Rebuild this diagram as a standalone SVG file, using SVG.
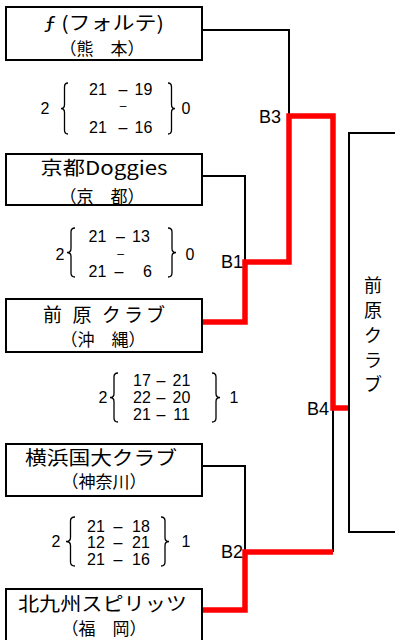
<svg xmlns="http://www.w3.org/2000/svg" width="395" height="640" viewBox="0 0 395 640">
<style>
.box{fill:#fff;stroke:#000;stroke-width:2}
.ln{fill:none;stroke:#000;stroke-width:2}
.win{fill:none;stroke:#f00;stroke-width:5.5}
.nm{font-family:"Noto Sans CJK JP",sans-serif;font-size:19px;text-anchor:middle;fill:#000}
.sub{font-family:"Noto Sans CJK JP",sans-serif;font-size:17px;text-anchor:middle;fill:#000}
.sc{font-family:"Liberation Sans",Arial,sans-serif;font-size:16px;text-anchor:middle;fill:#000}
.md{font-family:"Liberation Sans",Arial,sans-serif;font-size:12px;text-anchor:middle;fill:#000}
.br{fill:none;stroke:#000;stroke-width:1.3}
.lb{font-family:"Liberation Sans",Arial,sans-serif;font-size:18px;text-anchor:end;fill:#000}
.vt{font-family:"Noto Sans CJK JP",sans-serif;font-size:18px;text-anchor:middle;fill:#000}
</style>
<rect width="395" height="640" fill="#fff"/>

<g id="connectors">
  <path class="ln" d="M202,30 H289 V116"/>
  <path class="ln" d="M202,176 H245 V262"/>
  <path class="ln" d="M202,466 H245 V552"/>
  <path class="ln" d="M333,408 V552"/>
  <path class="win" d="M202,322 H245 V262 H289 V116 H333 V408 H349"/>
  <path class="win" d="M202,610 H245 V552 H333"/>
  <text class="lb" x="281" y="123">B3</text>
  <text class="lb" x="243" y="268">B1</text>
  <text class="lb" x="329" y="415">B4</text>
  <text class="lb" x="243" y="558">B2</text>
</g>

<g id="team-forte">
  <rect class="box" x="6" y="7" width="196" height="53"/>
  <text class="nm" x="104" y="30" textLength="120" lengthAdjust="spacingAndGlyphs">ƒ (フォルテ)</text>
  <text class="sub" x="102" y="55">（熊　本）</text>
</g>
<g id="team-kyoto">
  <rect class="box" x="6" y="154" width="196" height="51"/>
  <text class="nm" x="104" y="175" textLength="127" lengthAdjust="spacingAndGlyphs">京都Doggies</text>
  <text class="sub" x="102" y="203">（京　都）</text>
</g>
<g id="team-maehara">
  <rect class="box" x="6" y="299" width="196" height="53"/>
  <text class="nm" x="104" y="322" textLength="122" lengthAdjust="spacing">前 原 クラブ</text>
  <text class="sub" x="103" y="346">（沖　縄）</text>
</g>
<g id="team-yokohama">
  <rect class="box" x="6" y="444" width="196" height="52"/>
  <text class="nm" x="101" y="465" textLength="152" lengthAdjust="spacingAndGlyphs">横浜国大クラブ</text>
  <text class="sub" x="104" y="488">（神奈川）</text>
</g>
<g id="team-kitakyushu">
  <rect class="box" x="6" y="589" width="196" height="52"/>
  <text class="nm" x="102.5" y="611" textLength="169" lengthAdjust="spacingAndGlyphs">北九州スピリッツ</text>
  <text class="sub" x="104" y="635">（福　岡）</text>
</g>
<g id="champion">
  <path class="ln" d="M400,133 H349 V532 H400"/>
  <text class="vt" x="373" y="292">前</text>
  <text class="vt" x="373" y="317">原</text>
  <text class="vt" x="373" y="342">ク</text>
  <text class="vt" x="373" y="367">ラ</text>
  <text class="vt" x="373" y="391">ブ</text>
</g>

<g id="score-b3">
  <text class="sc" x="45" y="114">2</text>
  <path class="br" d="M68,83 Q64.5,83 64.5,87 V104.5 Q64.5,108.5 61,108.5 Q64.5,108.5 64.5,112.5 V130 Q64.5,134 68,134"/>
  <text class="sc" y="95"><tspan x="98">21</tspan><tspan x="123">–</tspan><tspan x="143.5">19</tspan></text>
  <text class="md" x="123" y="110">–</text>
  <text class="sc" y="133"><tspan x="98">21</tspan><tspan x="123">–</tspan><tspan x="143.5">16</tspan></text>
  <path class="br" d="M168,83 Q171.5,83 171.5,87 V104.5 Q171.5,108.5 175,108.5 Q171.5,108.5 171.5,112.5 V130 Q171.5,134 168,134"/>
  <text class="sc" x="186" y="114">0</text>
</g>
<g id="score-b1">
  <text class="sc" x="60" y="260">2</text>
  <path class="br" d="M75,228 Q71,228 71,232 V248.5 Q71,252.5 67,252.5 Q71,252.5 71,256.5 V273 Q71,277 75,277"/>
  <text class="sc" y="242"><tspan x="97.5">21</tspan><tspan x="120.5">–</tspan><tspan x="141">13</tspan></text>
  <text class="md" x="120.5" y="258">–</text>
  <text class="sc" y="277"><tspan x="97.5">21</tspan><tspan x="119">–</tspan><tspan x="147.5">6</tspan></text>
  <path class="br" d="M168,228 Q172,228 172,232 V248.5 Q172,252.5 176,252.5 Q172,252.5 172,256.5 V273 Q172,277 168,277"/>
  <text class="sc" x="190" y="260">0</text>
</g>
<g id="score-b4">
  <text class="sc" x="103" y="403">2</text>
  <path class="br" d="M118,373 Q114,373 114,377 V393.5 Q114,397.5 110,397.5 Q114,397.5 114,401.5 V418 Q114,422 118,422"/>
  <text class="sc" y="386"><tspan x="142">17</tspan><tspan x="161">–</tspan><tspan x="181.5">21</tspan></text>
  <text class="sc" y="403"><tspan x="142">22</tspan><tspan x="161">–</tspan><tspan x="181.5">20</tspan></text>
  <text class="sc" y="420"><tspan x="142">21</tspan><tspan x="161">–</tspan><tspan x="181.5">11</tspan></text>
  <path class="br" d="M212,373 Q216,373 216,377 V393.5 Q216,397.5 220,397.5 Q216,397.5 216,401.5 V418 Q216,422 212,422"/>
  <text class="sc" x="234" y="403">1</text>
</g>
<g id="score-b2">
  <text class="sc" x="56" y="547">2</text>
  <path class="br" d="M75,517 Q70.5,517 70.5,521 V537.5 Q70.5,541.5 66,541.5 Q70.5,541.5 70.5,545.5 V562 Q70.5,566 75,566"/>
  <text class="sc" y="532"><tspan x="96">21</tspan><tspan x="118">–</tspan><tspan x="141">18</tspan></text>
  <text class="sc" y="548"><tspan x="96">12</tspan><tspan x="118">–</tspan><tspan x="141">21</tspan></text>
  <text class="sc" y="565"><tspan x="96">21</tspan><tspan x="118">–</tspan><tspan x="141">16</tspan></text>
  <path class="br" d="M161,517 Q165,517 165,521 V537.5 Q165,541.5 169,541.5 Q165,541.5 165,545.5 V562 Q165,566 161,566"/>
  <text class="sc" x="186" y="547">1</text>
</g>
</svg>
